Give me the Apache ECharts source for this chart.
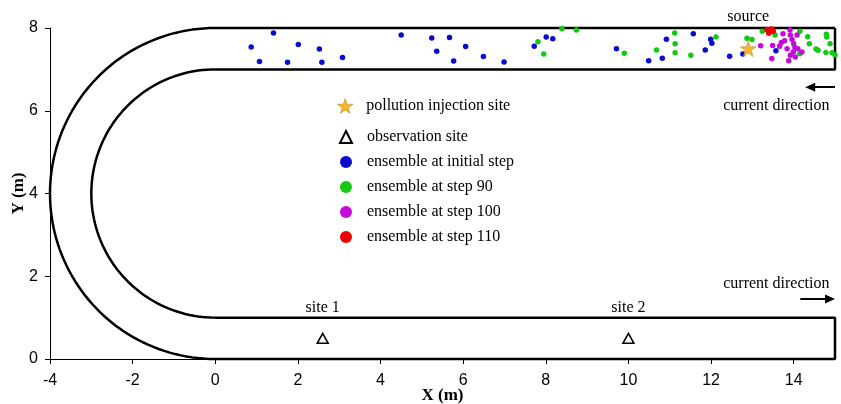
<!DOCTYPE html>
<html>
<head>
<meta charset="utf-8">
<script src="https://cdn.jsdelivr.net/npm/echarts@6/dist/echarts.min.js"></script>
<style>html,body{margin:0;padding:0;background:#fff}#c{width:841px;height:404px}</style>
</head>
<body>
<div id="c"></div>
<script>
// ---- data ----
const xTicks = [-4, -2, 0, 2, 4, 6, 8, 10, 12, 14];
const yTicks = [0, 2, 4, 6, 8];
const injectionSite = [[12.9, 7.5]];
const observationSites = [[2.6, 0.5, 'site 1'], [10.0, 0.5, 'site 2']];
const ensembleInitial = [
  [0.87,7.54],[1.41,7.88],[1.07,7.19],[1.75,7.17],[2.01,7.60],[2.52,7.49],[2.58,7.17],[3.08,7.29],
  [4.50,7.83],[5.24,7.76],[5.67,7.77],[5.36,7.44],[6.06,7.55],[5.77,7.20],[6.49,7.31],[6.99,7.18],
  [7.72,7.56],[8.01,7.78],[8.17,7.74],[9.71,7.50],[10.49,7.21],[10.82,7.27],[10.92,7.73],[11.57,7.86],
  [11.99,7.73],[12.02,7.63],[11.86,7.47],[12.45,7.32],[12.77,7.37],[13.57,7.45]
];
const ensembleStep90 = [
  [7.81,7.67],[7.95,7.37],[8.39,7.98],[8.74,7.95],[9.90,7.39],[10.68,7.47],[11.12,7.88],[11.13,7.62],
  [11.13,7.40],[11.51,7.34],[12.12,7.78],[12.87,7.75],[12.99,7.72],[13.24,7.92],[13.55,7.83],[14.15,7.92],
  [14.34,7.79],[14.38,7.62],[14.54,7.49],[14.59,7.46],[14.79,7.85],[14.80,7.78],[14.88,7.62],[14.78,7.41],
  [14.93,7.40],[15.0,7.35],[14.15,7.38]
];
const ensembleStep100 = [
  [13.20,7.57],[13.49,7.58],[13.47,7.26],[13.66,7.56],[13.74,7.86],[13.78,7.69],[13.91,7.95],[13.92,7.83],
  [13.96,7.72],[14.00,7.62],[14.03,7.53],[14.08,7.83],[13.99,7.42],[13.92,7.34],[14.04,7.30],[13.88,7.21],
  [14.20,7.42],[13.84,7.50],[13.70,7.65],[14.10,7.50]
];
const ensembleStep110 = [[13.36,7.96],[13.42,7.92],[13.46,7.97],[13.40,7.88],[13.50,7.93]];

// channel geometry (flume)
const channelEnd = 15, bendCenterY = 4, outerRadius = 4, innerRadius = 3;

// annotations
const annotationTexts = [
  [12.9, 8.26, 'source'],
  [13.58, 6.12, 'current direction'],
  [13.58, 1.81, 'current direction']
];
const arrowTop = [[15.0, 6.57], [14.4, 6.57]];
const arrowBottom = [[14.16, 1.45], [14.88, 1.45]];

// ---- build ----
function arc(r) {
  const pts = [];
  const n = 90;
  for (let i = 0; i <= n; i++) {
    const a = Math.PI / 2 + Math.PI * i / n;
    pts.push([r * Math.cos(a), bendCenterY + r * Math.sin(a)]);
  }
  return pts;
}
const outerTop = bendCenterY + outerRadius, outerBot = bendCenterY - outerRadius;
const innerTop = bendCenterY + innerRadius, innerBot = bendCenterY - innerRadius;
const outline = [[channelEnd, outerTop]]
  .concat(arc(outerRadius))
  .concat([[channelEnd, outerBot], [channelEnd, innerBot]])
  .concat(arc(innerRadius).reverse())
  .concat([[channelEnd, innerTop], [channelEnd, outerTop]]);

const serif = "'Liberation Serif', 'Times New Roman', serif";
const sans = "'Liberation Sans', Arial, sans-serif";
const starPath = 'path://M50,0 L61.8,35.5 L99,35.5 L69,57.5 L80.5,93 L50,71 L19.5,93 L31,57.5 L1,35.5 L38.2,35.5 Z';
const starStyle = { color: '#F6B42A', borderColor: '#a07818', borderWidth: 0.4, opacity: 1 };

const chart = echarts.init(document.getElementById('c'));
chart.setOption({
  animation: false,
  backgroundColor: '#fff',
  grid: { left: 50, right: 6, top: 28, bottom: 45, outerBoundsMode: 'none', containLabel: false },
  xAxis: {
    type: 'value', min: -4, max: channelEnd, interval: 2,
    splitLine: { show: false },
    axisLine: { show: true, onZero: false, lineStyle: { color: '#000', width: 1 } },
    axisTick: { show: true, length: 5, lineStyle: { color: '#000' }, customValues: xTicks },
    axisLabel: { customValues: xTicks, color: '#000', fontFamily: sans, fontSize: 16, margin: 14 },
    name: 'X (m)', nameLocation: 'middle', nameGap: 28, nameMoveOverlap: false,
    nameTextStyle: { fontFamily: serif, fontWeight: 'bold', fontSize: 17, color: '#000' }
  },
  yAxis: {
    type: 'value', min: 0, max: 8, interval: 2,
    splitLine: { show: false },
    axisLine: { show: true, onZero: false, lineStyle: { color: '#000', width: 1 } },
    axisTick: { show: true, length: 5, lineStyle: { color: '#000' }, customValues: yTicks },
    axisLabel: { customValues: yTicks, color: '#000', fontFamily: sans, fontSize: 16, margin: 12 },
    name: 'Y (m)', nameLocation: 'middle', nameGap: 23, nameMoveOverlap: false,
    nameTextStyle: { fontFamily: serif, fontWeight: 'bold', fontSize: 17, color: '#000' }
  },
  legend: [
    {
      data: [{ name: 'pollution injection site', icon: starPath, itemStyle: starStyle }],
      orient: 'vertical', left: 332, top: 93,
      itemWidth: 16, itemHeight: 16, selectedMode: false,
      textStyle: { fontFamily: serif, fontSize: 16, color: '#000', padding: [0, 0, 0, 8] }
    },
    {
      data: ['observation site', 'ensemble at initial step', 'ensemble at step 90', 'ensemble at step 100', 'ensemble at step 110'],
      orient: 'vertical', left: 334, top: 124, itemWidth: 12, itemHeight: 12, itemGap: 9, selectedMode: false,
      textStyle: { fontFamily: serif, fontSize: 16, color: '#000', padding: [0, 0, 0, 10] }
    }
  ],
  series: [
    {
      name: 'channel', type: 'line', data: outline, showSymbol: false, symbol: 'none',
      clip: false, silent: true, z: 2,
      lineStyle: { color: '#000', width: 2.5 }
    },
    {
      name: 'ensemble at initial step', type: 'scatter', data: ensembleInitial, symbol: 'circle',
      symbolSize: 5.5, clip: false, z: 3, itemStyle: { color: '#0A0ACF', opacity: 1 }
    },
    {
      name: 'ensemble at step 90', type: 'scatter', data: ensembleStep90, symbol: 'circle',
      symbolSize: 5.5, clip: false, z: 3, itemStyle: { color: '#14C814', opacity: 1 }
    },
    {
      name: 'ensemble at step 100', type: 'scatter', data: ensembleStep100, symbol: 'circle',
      symbolSize: 5.5, clip: false, z: 4, itemStyle: { color: '#C40AD8', opacity: 1 }
    },
    {
      name: 'ensemble at step 110', type: 'scatter', data: ensembleStep110, symbol: 'circle',
      symbolSize: 6, clip: false, z: 5, itemStyle: { color: '#F00000', opacity: 1 }
    },
    {
      name: 'pollution injection site', type: 'scatter', data: injectionSite, symbol: starPath,
      symbolSize: 16, clip: false, z: 6,
      itemStyle: starStyle
    },
    {
      name: 'observation site', type: 'scatter', data: observationSites, symbol: 'triangle',
      symbolSize: [11, 10], clip: false, z: 6,
      itemStyle: { color: '#fff', borderColor: '#000', borderWidth: 1.5, opacity: 1 },
      label: {
        show: true, position: 'top', distance: 17, formatter: p => p.value[2],
        fontFamily: serif, fontSize: 16, color: '#000', opacity: 1
      }
    },
    {
      name: 'annotations', type: 'scatter', data: annotationTexts, symbolSize: 0, clip: false, silent: true, z: 7,
      itemStyle: { opacity: 1 },
      label: {
        show: true, position: 'inside', formatter: p => p.value[2],
        fontFamily: serif, fontSize: 16, color: '#000', opacity: 1
      },
      markLine: {
        silent: true, symbol: ['none', 'triangle'], symbolSize: [9, 10], animation: false,
        label: { show: false },
        lineStyle: { color: '#000', width: 2, type: 'solid', opacity: 1 },
        itemStyle: { color: '#000', opacity: 1 },
        data: [
          [{ coord: arrowTop[0] }, { coord: arrowTop[1] }],
          [{ coord: arrowBottom[0] }, { coord: arrowBottom[1] }]
        ]
      }
    }
  ]
});
</script>
</body>
</html>
